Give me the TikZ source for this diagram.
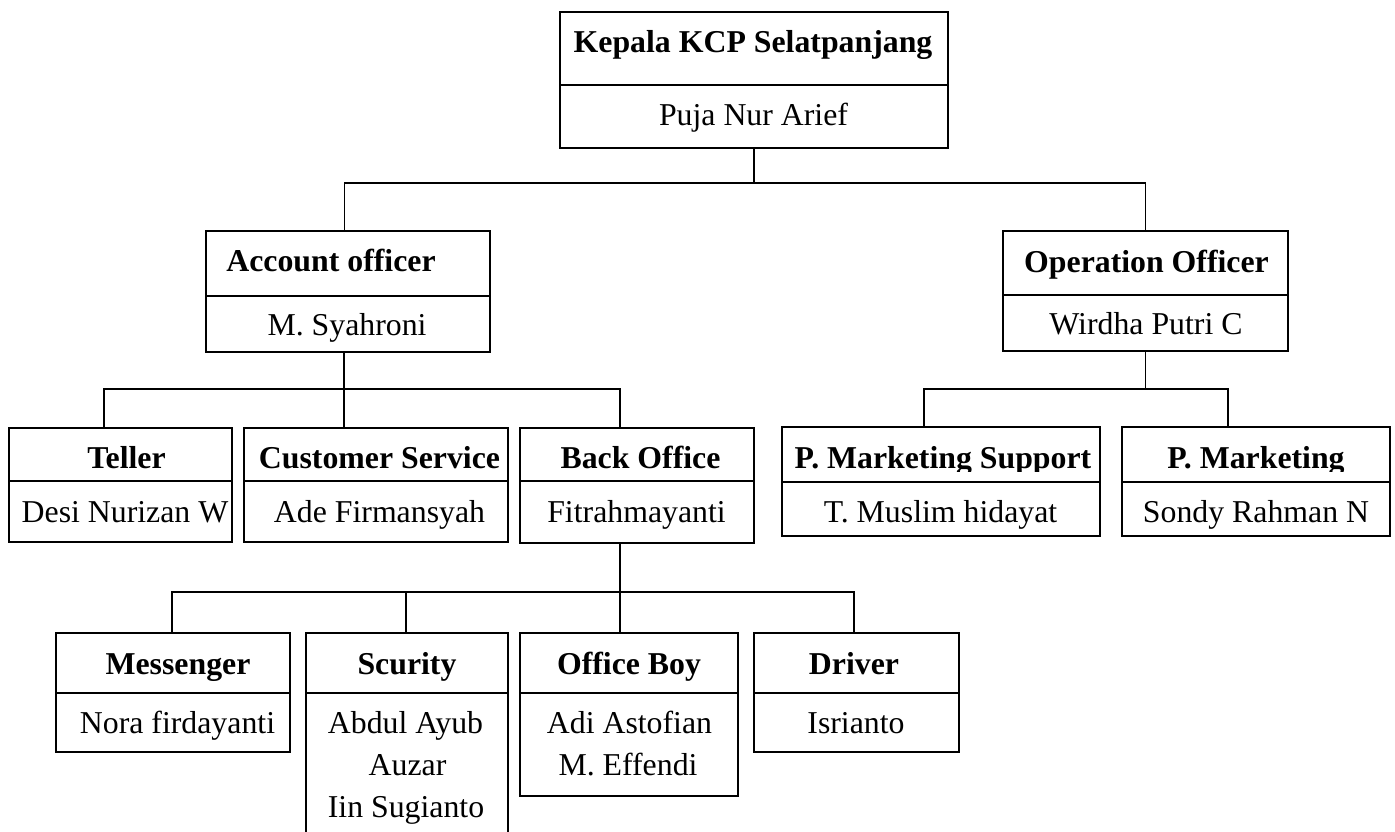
\documentclass[tikz,border=0pt]{standalone}
\usepackage{fontspec}
\setmainfont{Liberation Serif}
\begin{document}
\begin{tikzpicture}[x=1pt,y=-1pt,
  box/.style={draw, line width=1.8pt, inner sep=0pt, outer sep=0pt},
  wire/.style={line width=1.8pt},
  ttl/.style={anchor=base, inner sep=0pt, font=\fontsize{31.8}{42}\selectfont\bfseries},
  nm/.style={anchor=base, inner sep=0pt, font=\fontsize{31.8}{42}\selectfont},
]
\useasboundingbox (0,0) rectangle (1395,832);

% boxes
\node[box, minimum width=388pt, minimum height=136pt] (kepala) at (754,80) {};
\node[box, minimum width=284pt, minimum height=121pt] (acc) at (348,291.5) {};
\node[box, minimum width=285pt, minimum height=120pt] (opr) at (1145.5,291) {};
\node[box, minimum width=223pt, minimum height=114pt] (teller) at (120.5,485) {};
\node[box, minimum width=264pt, minimum height=114pt] (cs) at (376,485) {};
\node[box, minimum width=234pt, minimum height=115pt] (back) at (637,485.5) {};
\node[box, minimum width=318pt, minimum height=109pt] (pms) at (941,481.5) {};
\node[box, minimum width=268pt, minimum height=109pt] (pm) at (1256,481.5) {};
\node[box, minimum width=234pt, minimum height=119pt] (mess) at (173,692.5) {};
\node[box, minimum width=202pt, minimum height=207pt] (scur) at (407,736.5) {};
\node[box, minimum width=218pt, minimum height=163pt] (ob) at (629,714.5) {};
\node[box, minimum width=205pt, minimum height=119pt] (drv) at (856.5,692.5) {};

% dividers
\draw[wire] ([yshift=-73pt]kepala.north west) -- ([yshift=-73pt]kepala.north east);
\draw[wire] ([yshift=-65pt]acc.north west) -- ([yshift=-65pt]acc.north east);
\draw[wire] ([yshift=-64pt]opr.north west) -- ([yshift=-64pt]opr.north east);
\foreach \b in {teller,cs,back}{
  \draw[wire] ([yshift=-53pt]\b.north west) -- ([yshift=-53pt]\b.north east);
}
\foreach \b in {pms,pm}{
  \draw[wire] ([yshift=-55pt]\b.north west) -- ([yshift=-55pt]\b.north east);
}
\foreach \b in {mess,scur,ob,drv}{
  \draw[wire] ([yshift=-60pt]\b.north west) -- ([yshift=-60pt]\b.north east);
}

% connectors
\coordinate (j1) at (754,183);
\draw[wire] (kepala.south) -- (j1);
\draw[wire] ([xshift=-3.5pt]acc.north) |- (j1) -| (opr.north);
\coordinate (j2) at (344,389);
\draw[wire] ([xshift=-4pt]acc.south) -- (j2);
\draw[wire] ([xshift=-16.5pt]teller.north) |- (j2) -| ([xshift=-17pt]back.north);
\draw[wire] ([xshift=-32pt]cs.north) -- (j2);
\coordinate (j3) at (1145.5,389);
\draw[wire] (opr.south) -- (j3);
\draw[wire] ([xshift=-17pt]pms.north) |- (j3) -| ([xshift=-28pt]pm.north);
\coordinate (j4) at (620,592);
\draw[wire] ([xshift=-17pt]back.south) -- (j4);
\draw[wire] ([xshift=-1pt]mess.north) |- (j4) -| ([xshift=-2.5pt]drv.north);
\draw[wire] ([xshift=-1pt]scur.north) -- ++(0,-41);
\draw[wire] ([xshift=-9pt]ob.north) -- ++(0,-41);

% texts
\node[ttl] (tKepala) at (753,53) {Kepala KCP Selatpanjang};
\node[nm] (nKepala) at (753.5,126) {Puja Nur Arief};
\node[ttl] (tAcc) at (331,271) {Account officer};
\node[nm] (nAcc) at (347,335) {M. Syahroni};
\node[ttl] (tOpr) at (1146.5,272) {Operation Officer};
\node[nm] (nOpr) at (1146,334) {Wirdha Putri C};
\node[ttl] (tTel) at (126.5,468) {Teller};
\node[nm] (nTel) at (125,522) {Desi Nurizan W};
\node[ttl] (tCs) at (379.5,468) {Customer Service};
\node[nm] (nCs) at (379.5,522) {Ade Firmansyah};
\node[ttl] (tBack) at (640.5,468) {Back Office};
\node[nm] (nBack) at (636.5,522) {Fitrahmayanti};
\begin{scope}
  \clip (782,420) rectangle (1390,471);
  \node[ttl] (tPms) at (943,468) {P. Marketing Support};
  \node[ttl] (tPm) at (1256,468) {P. Marketing};
\end{scope}
\node[nm] (nPms) at (940.5,522) {T. Muslim hidayat};
\node[nm] (nPm) at (1256,522) {Sondy Rahman N};
\node[ttl] (tMess) at (178,674) {Messenger};
\node[nm] (nMess) at (177.5,733) {Nora firdayanti};
\node[ttl] (tScur) at (407,674) {Scurity};
\node[nm] (nScurA) at (405.5,733) {Abdul Ayub};
\node[nm] (nScurB) at (407.5,775) {Auzar};
\node[nm] (nScurC) at (406,817) {Iin Sugianto};
\node[ttl] (tOb) at (629,674) {Office Boy};
\node[nm] (nObA) at (629.5,733) {Adi Astofian};
\node[nm] (nObB) at (628,775) {M. Effendi};
\node[ttl] (tDrv) at (854,674) {Driver};
\node[nm] (nDrv) at (856,733) {Isrianto};
\end{tikzpicture}
\end{document}
